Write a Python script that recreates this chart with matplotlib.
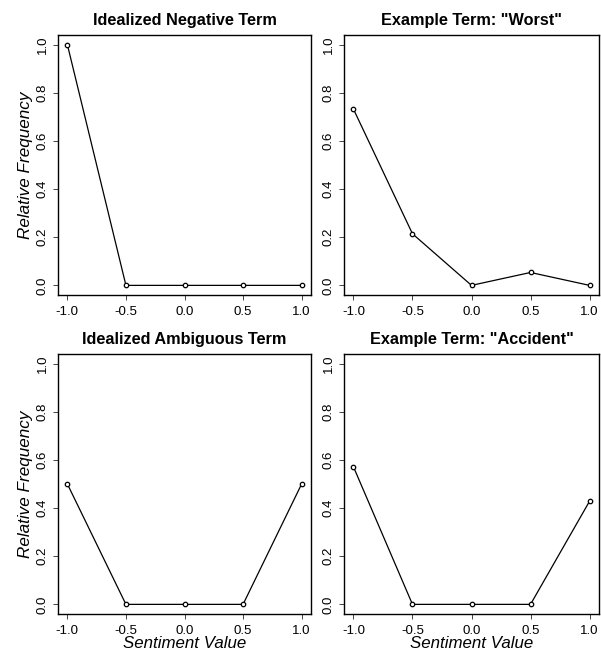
import matplotlib
matplotlib.use("Agg")
import matplotlib.pyplot as plt

sentiment = [-1.0, -0.5, 0.0, 0.5, 1.0]
neg_ideal = [1.0, 0.0, 0.0, 0.0, 0.0]
worst = [41/56, 12/56, 0.0, 3/56, 0.0]
amb_ideal = [0.5, 0.0, 0.0, 0.0, 0.5]
accident = [4/7, 0.0, 0.0, 0.0, 3/7]

titles = ["Idealized Negative Term", 'Example Term: "Worst"',
          "Idealized Ambiguous Term", 'Example Term: "Accident"']
series = [neg_ideal, worst, amb_ideal, accident]
xticks = [-1.0, -0.5, 0.0, 0.5, 1.0]
yticks = [0.0, 0.2, 0.4, 0.6, 0.8, 1.0]

plt.rcParams['font.family'] = ['Liberation Sans', 'DejaVu Sans']

W, H = 601, 653
fig = plt.figure(figsize=(W/100, H/100), dpi=100)

boxes = [(58, 311, 35, 295), (344, 599, 35, 295),
         (58, 311, 354, 614), (344, 599, 354, 614)]

for i, (l, r, t, b) in enumerate(boxes):
    ax = fig.add_axes([l/W, 1 - b/H, (r-l)/W, (b-t)/H])
    ax.plot(sentiment, series[i], color='black', lw=0.9,
            marker='o', ms=3.2, mfc='white', mec='black', mew=0.9)
    ax.set_xlim(-1.08, 1.08)
    ax.set_ylim(-0.04, 1.04)
    ax.set_xticks(xticks)
    ax.set_xticklabels([f"{v:.1f}" for v in xticks])
    ax.set_yticks(yticks)
    ax.set_yticklabels([f"{v:.1f}" for v in yticks], rotation=90, va='center')
    ax.tick_params(direction='out', length=3.5, width=0.7, labelsize=9.5,
                   color='#444444')
    ax.tick_params(axis='x', pad=4.5)
    ax.tick_params(axis='y', pad=3)
    for s in ax.spines.values():
        s.set_linewidth(1.0)
    ax.set_title(titles[i], fontsize=11.7, fontweight='bold', pad=7.5)
    if i % 2 == 0:
        ax.set_ylabel("Relative Frequency", fontsize=12.3, style='italic', labelpad=3)
    if i >= 2:
        ax.set_xlabel("Sentiment Value", fontsize=12.2, style='italic', labelpad=-0.5)

fig.savefig("out.png", dpi=100)
